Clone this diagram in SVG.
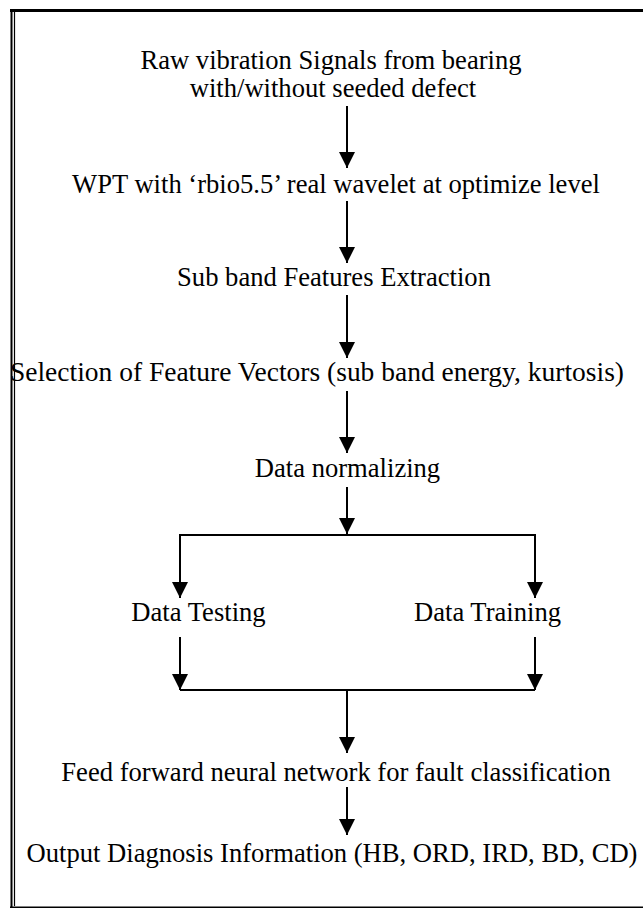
<svg xmlns="http://www.w3.org/2000/svg" width="643" height="909" viewBox="0 0 643 909">
<style>
  text { font-family: "Liberation Serif", "Times New Roman", serif; font-size: 26.6px; fill: #000; text-anchor: middle; }
  .c { stroke: #000; stroke-width: 2; fill: none; }
  .f { stroke: #000; fill: none; }
</style>
<defs>
  <marker id="ah" viewBox="0 0 16 16" refX="16" refY="8" markerWidth="16" markerHeight="16" markerUnits="userSpaceOnUse" orient="auto">
    <path d="M0,0 L16,8 L0,16 Z" fill="#000"/>
  </marker>
</defs>
<rect width="643" height="909" fill="#fff"/>
<g id="frame">
  <line class="f" x1="10" y1="10.5" x2="643" y2="10.5" stroke-width="3"/>
  <line class="f" x1="11.5" y1="9" x2="11.5" y2="908" stroke-width="2"/>
  <line class="f" x1="14.5" y1="12" x2="14.5" y2="906" stroke-width="1.2"/>
  <line class="f" x1="10" y1="907.2" x2="643" y2="907.2" stroke-width="1.5"/>
</g>
<g id="n1"><text x="331" y="68.5">Raw vibration Signals from bearing</text><text x="333" y="97">with/without seeded defect</text></g>
<g id="n2"><text x="336" y="193">WPT with ‘rbio5.5’ real wavelet at optimize level</text></g>
<g id="n3"><text x="334" y="286">Sub band Features Extraction</text></g>
<g id="n4"><text x="317" y="381" textLength="614" lengthAdjust="spacingAndGlyphs">Selection of Feature Vectors (sub band energy, kurtosis)</text></g>
<g id="n5"><text x="347.5" y="477">Data normalizing</text></g>
<g id="n6"><text x="198.5" y="621">Data Testing</text></g>
<g id="n7"><text x="487.5" y="621">Data Training</text></g>
<g id="n8"><text x="336" y="781">Feed forward neural network for fault classification</text></g>
<g id="n9"><text x="332" y="862">Output Diagnosis Information (HB, ORD, IRD, BD, CD)</text></g>
<g id="connectors">
  <line class="c" x1="347" y1="106" x2="347" y2="168" marker-end="url(#ah)"/>
  <line class="c" x1="347" y1="201" x2="347" y2="263" marker-end="url(#ah)"/>
  <line class="c" x1="347" y1="295" x2="347" y2="358" marker-end="url(#ah)"/>
  <line class="c" x1="347" y1="391" x2="347" y2="453" marker-end="url(#ah)"/>
  <line class="c" x1="347" y1="487" x2="347" y2="534" marker-end="url(#ah)"/>
  <polyline class="c" points="180,598 180,535 535,535 535,598"/>
  <line class="c" x1="180" y1="540" x2="180" y2="598" marker-end="url(#ah)"/>
  <line class="c" x1="535" y1="540" x2="535" y2="598" marker-end="url(#ah)"/>
  <line class="c" x1="180" y1="637" x2="180" y2="690" marker-end="url(#ah)"/>
  <line class="c" x1="535" y1="637" x2="535" y2="690" marker-end="url(#ah)"/>
  <line class="c" x1="180" y1="690" x2="535" y2="690"/>
  <line class="c" x1="347" y1="690" x2="347" y2="753" marker-end="url(#ah)"/>
  <line class="c" x1="347" y1="787" x2="347" y2="835" marker-end="url(#ah)"/>
</g>
</svg>
